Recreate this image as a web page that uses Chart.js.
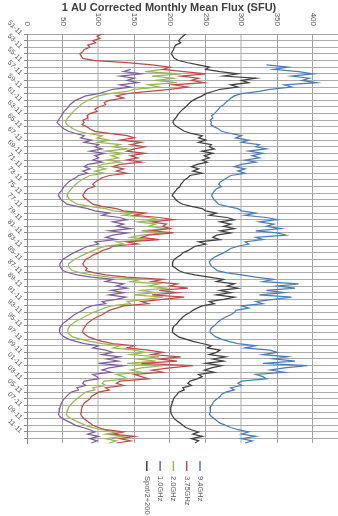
<!DOCTYPE html>
<html>
<head>
<meta charset="utf-8">
<title>1 AU Corrected Monthly Mean Flux (SFU)</title>
<script src="https://cdn.jsdelivr.net/npm/chart.js@4/dist/chart.umd.min.js"></script>
<style>
  html, body { margin: 0; padding: 0; background: #fff; }
  #wrap { position: relative; width: 338px; height: 516px; }
</style>
</head>
<body>
<div id="wrap"><canvas id="fluxChart"></canvas></div>
<script>
// samples every 4 months, starting Nov 1951; each row = Nov Y, Mar Y+1, Jul Y+1
const START_YEAR = 1951;
const START_MONTH = 11;
const STEP_MONTHS = 4;
const N_POINTS = 186;

const dates = [];
for (let i = 0; i < N_POINTS; i++) {
    const m = START_MONTH - 1 + i * STEP_MONTHS;
    const yy = (START_YEAR + Math.floor(m / 12)) % 100;
    dates.push(String(yy).padStart(2, "0") + "-" + String(m % 12 + 1).padStart(2, "0"));
}

const valueTicks = [0, 50, 100, 150, 200, 250, 300, 350, 400];

const flux9_4 = [
    null, null, null,  null, null, null,  null, null, null,  null, null, null,   // 1951-54
    null, null, 335,   365, 345, 380,   400, 370, 395,   385, 405, 360,         // 1955-58
    370, 340, 325,   300, 290, 285,   282, 278, 275,   270, 268, 265,           // 1959-62
    262, 258, 260,   256, 258, 257,   262, 268, 272,   285, 300, 292,           // 1963-66
    310, 300, 325,   320, 335, 310,   330, 315, 325,   305, 320, 300,           // 1967-70
    290, 305, 295,   305, 285, 280,   275, 270, 268,   272, 265, 262,           // 1971-74
    260, 258, 260,   262, 265, 268,   280, 295, 300,   320, 305, 335,           // 1975-78
    350, 325, 345,   335, 355, 320,   350, 362, 320,   330, 305, 310,           // 1979-82
    295, 285, 280,   275, 268, 262,   258, 255, 256,   258, 262, 266,           // 1983-86
    280, 300, 320,   345, 330, 380,   350, 375, 335,   360, 325, 370,           // 1987-90
    345, 320, 330,   300, 310, 292,   290, 285, 278,   272, 268, 265,           // 1991-94
    262, 258, 256,   256, 260, 264,   272, 282, 295,   320, 305, 340,           // 1995-98
    350, 330, 365,   345, 375, 330,   392, 360, 340,   360, 320, 330,           // 1999-02
    335, 300, 295,   300, 285, 290,   278, 272, 270,   266, 262, 260,           // 2003-06
    258, 256, 257,   256, 255, 258,   262, 266, 270,   278, 285, 295,           // 2007-10
    310, 300, 320,   300, 315, 305                                              // 2011-12
];

const flux3_75 = [
    105, 98, 102,   92, 96, 85,   88, 80, 78,   74, 76, 78,                     // 1951-54
    95, 140, 175,   200, 190, 220,   250, 215, 240,   230, 248, 205,            // 1955-58
    225, 200, 170,   140, 125, 135,   115, 108, 110,   100, 95, 98,             // 1959-62
    88, 84, 85,   78, 80, 77,   84, 88, 95,   115, 140, 150,                    // 1963-66
    130, 160, 145,   165, 150, 140,   165, 145, 155,   140, 160, 130,           // 1967-70
    120, 135, 125,   140, 115, 105,   100, 95, 92,   95, 85, 82,                // 1971-74
    80, 78, 80,   84, 88, 92,   105, 125, 135,   165, 150, 185,                 // 1975-78
    205, 175, 195,   190, 200, 175,   205, 170, 160,   185, 140, 155,           // 1979-82
    120, 115, 105,   100, 92, 88,   82, 80, 78,   80, 84, 82,                   // 1983-86
    95, 110, 140,   190, 175, 210,   200, 225, 185,   210, 175, 220,            // 1987-90
    190, 160, 170,   135, 125, 115,   110, 105, 98,   92, 88, 84,               // 1991-94
    82, 80, 78,   78, 82, 86,   95, 105, 120,   150, 140, 170,                  // 1995-98
    190, 175, 215,   185, 210, 160,   232, 200, 175,   190, 150, 160,           // 1999-02
    170, 130, 125,   135, 110, 115,   100, 95, 90,   88, 84, 80,                // 2003-06
    78, 77, 76,   76, 75, 77,   80, 84, 88,   92, 100, 110,                     // 2007-10
    135, 120, 150,   130, 145, 125                                              // 2011-12
];

const flux2_0 = [
    null, null, null,  null, null, null,  null, null, null,  null, null, null,   // 1951-54
    null, null, null,   null, 190, 165,   215, 175, 205,   180, 210, 170,       // 1955-58
    185, 150, 140,   115, 100, 92,   85, 80, 75,   72, 68, 65,                  // 1959-62
    62, 60, 57,   55, 54, 56,   60, 65, 72,   85, 105, 98,                      // 1963-66
    115, 100, 130,   120, 140, 110,   135, 118, 128,   112, 130, 105,           // 1967-70
    98, 110, 95,   108, 88, 82,   76, 72, 68,   65, 62, 60,                     // 1971-74
    57, 56, 58,   60, 65, 70,   88, 110, 120,   150, 135, 170,                  // 1975-78
    185, 155, 180,   170, 195, 160,   190, 160, 145,   170, 125, 135,           // 1979-82
    110, 100, 92,   85, 78, 72,   66, 62, 58,   58, 60, 63,                     // 1983-86
    75, 90, 115,   160, 145, 185,   170, 195, 160,   180, 150, 190,             // 1987-90
    165, 140, 145,   118, 108, 100,   92, 86, 80,   74, 68, 64,                 // 1991-94
    60, 58, 57,   57, 60, 64,   75, 88, 105,   130, 120, 150,                   // 1995-98
    165, 145, 185,   155, 180, 140,   190, 160, 145,   160, 125, 135,           // 1999-02
    140, 108, 105,   110, 92, 95,   82, 78, 74,   70, 66, 63,                   // 2003-06
    60, 58, 57,   56, 55, 57,   62, 68, 75,   82, 92, 105,                      // 2007-10
    125, 110, 135,   110, 125, 115                                              // 2011-12
];

const flux1_0 = [
    null, null, null,  null, null, null,  null, null, null,  null, null, null,   // 1951-54
    null, null, null,   null, 145, 135,   160, 130, 150,   140, 155, 130,       // 1955-58
    145, 120, 110,   100, 82, 75,   68, 64, 60,   58, 55, 52,                   // 1959-62
    50, 48, 46,   44, 42, 45,   48, 52, 58,   68, 80, 75,                       // 1963-66
    90, 80, 100,   95, 105, 88,   108, 95, 100,   92, 105, 85,                  // 1967-70
    80, 88, 78,   85, 72, 68,   62, 58, 55,   52, 50, 48,                       // 1971-74
    45, 44, 46,   48, 52, 56,   70, 85, 95,   115, 105, 130,                    // 1975-78
    140, 120, 135,   125, 145, 115,   140, 120, 110,   125, 95, 100,            // 1979-82
    85, 78, 72,   65, 60, 55,   50, 48, 46,   46, 48, 50,                       // 1983-86
    58, 70, 90,   120, 110, 135,   125, 140, 118,   135, 115, 138,              // 1987-90
    125, 105, 110,   90, 82, 78,   72, 66, 62,   58, 54, 50,                    // 1991-94
    48, 46, 45,   46, 48, 52,   58, 68, 80,   100, 92, 110,                     // 1995-98
    120, 105, 130,   112, 128, 100,   135, 115, 105,   118, 92, 98,             // 1999-02
    100, 80, 78,   82, 70, 72,   62, 58, 55,   52, 50, 48,                      // 2003-06
    47, 46, 45,   45, 44, 46,   50, 56, 62,   68, 78, 88,                       // 2007-10
    95, 85, 100,   88, 98, 90                                                   // 2011-12
];

// sunspot number / 2 + 200
const spotScaled = [
    222, 218, 215,   212, 215, 208,   206, 205, 203,   202, 204, 206,           // 1951-54
    212, 225, 240,   255, 250, 270,   295, 275, 320,   300, 310, 285,           // 1955-58
    295, 270, 260,   250, 245, 238,   232, 228, 225,   222, 218, 215,           // 1959-62
    212, 210, 208,   205, 204, 206,   210, 215, 220,   230, 245, 240,           // 1963-66
    250, 240, 258,   255, 262, 245,   260, 248, 255,   245, 252, 238,           // 1967-70
    230, 240, 232,   245, 228, 225,   220, 218, 215,   214, 210, 208,           // 1971-74
    205, 203, 206,   208, 212, 218,   230, 245, 250,   265, 255, 280,           // 1975-78
    290, 270, 285,   275, 290, 270,   285, 265, 260,   270, 240, 250,           // 1979-82
    235, 230, 225,   218, 215, 210,   206, 204, 203,   204, 208, 212,           // 1983-86
    220, 235, 255,   275, 265, 290,   280, 295, 270,   285, 265, 290,           // 1987-90
    275, 255, 262,   245, 238, 232,   228, 222, 218,   215, 212, 210,           // 1991-94
    206, 204, 203,   204, 208, 212,   222, 232, 245,   258, 252, 270,           // 1995-98
    265, 255, 278,   260, 275, 250,   272, 258, 248,   262, 240, 245,           // 1999-02
    238, 228, 225,   230, 218, 220,   212, 210, 207,   205, 204, 203,           // 2003-06
    202, 201, 201,   201, 202, 204,   206, 210, 214,   218, 222, 230,           // 2007-10
    240, 232, 245,   230, 240, 235                                              // 2011-12
];

const seriesNames = ["9.4GHz", "3.75GHz", "2.0GHz", "1.0GHz", "Spot/2+200"];
const seriesColors = ["#4a7ebb", "#be4b48", "#98b954", "#7d60a0", "#404040"];
const seriesData = [flux9_4, flux3_75, flux2_0, flux1_0, spotScaled];

const FONT = '"Liberation Sans", Arial, sans-serif';

// axis labels on top and the legend are drawn turned a quarter, like the source
const rotatedText = {
    id: "rotatedText",
    afterDraw(chart) {
        const ctx = chart.ctx;
        const xs = chart.scales.x;
        ctx.save();
        ctx.fillStyle = "#595959";
        ctx.font = "8px " + FONT;
        ctx.textAlign = "right";
        ctx.textBaseline = "middle";
        xs.ticks.forEach(t => {
            ctx.save();
            ctx.translate(xs.getPixelForValue(t.value), xs.bottom - 8);
            ctx.rotate(Math.PI / 2);
            ctx.fillText(String(t.value), 0, 0);
            ctx.restore();
        });

        // legend, right to left
        ctx.font = "7.5px " + FONT;
        chart.data.datasets.forEach((ds, i) => {
            const x = 200 - i * 13.3;
            ctx.strokeStyle = ds.borderColor;
            ctx.lineWidth = 1.5;
            ctx.beginPath();
            ctx.moveTo(x, 461);
            ctx.lineTo(x, 471);
            ctx.stroke();
            ctx.save();
            ctx.translate(x, 476);
            ctx.rotate(Math.PI / 2);
            ctx.textAlign = "left";
            ctx.fillText(ds.label, 0, 0);
            ctx.restore();
        });
        ctx.restore();
    }
};

const fluxctx = document.getElementById("fluxChart").getContext("2d");
new Chart(fluxctx, {
    type: "line",
    data: {
        labels: dates,
        datasets: seriesNames.map((name, i) => ({
            label: name,
            data: seriesData[i],
            borderColor: seriesColors[i],
            backgroundColor: seriesColors[i],
            borderWidth: 1.25,
            pointRadius: 0,
            tension: 0,
            fill: false
        }))
    },
    options: {
        indexAxis: "y",
        animation: false,
        responsive: true,
        maintainAspectRatio: false,
        layout: { padding: { top: 0, right: 0, bottom: 73, left: 0 } },
        scales: {
            x: {
                type: "linear",
                position: "top",
                min: 0,
                max: 435,
                afterFit: scale => { scale.height = 14.8; },
                ticks: { display: false, stepSize: 50, includeBounds: false },
                grid: {
                    drawTicks: false,
                    color: c => (c.tick && (c.tick.value === 100 || c.tick.value === 300)) ? "#d6d6d6" : "#a3a3a3",
                    lineWidth: c => (c.tick && (c.tick.value === 100 || c.tick.value === 300)) ? 2 : 1
                },
                border: { color: "#a3a3a3" }
            },
            y: {
                type: "category",
                afterFit: scale => { scale.width = 27; },
                ticks: {
                    autoSkip: false,
                    minRotation: -45,
                    maxRotation: -45,
                    padding: 3,
                    color: "#595959",
                    font: { family: FONT, size: 7 },
                    callback: (val, i) => (i % 6 === 0 ? dates[i] : "")
                },
                grid: {
                    tickLength: 3,
                    color: c => (c.index % 3 === 0 ? "#ababab" : "rgba(0,0,0,0)"),
                    tickColor: c => (c.index % 3 === 0 ? "#8a8a8a" : "rgba(0,0,0,0)")
                },
                border: { color: "#868686" }
            }
        },
        plugins: {
            title: {
                display: true,
                text: "1 AU Corrected Monthly Mean Flux (SFU)",
                color: "#404040",
                font: { family: FONT, size: 11, weight: "bold" },
                padding: { top: 1, bottom: 5 }
            },
            legend: { display: false },
            tooltip: { enabled: false }
        }
    },
    plugins: [rotatedText]
});
</script>
</body>
</html>
